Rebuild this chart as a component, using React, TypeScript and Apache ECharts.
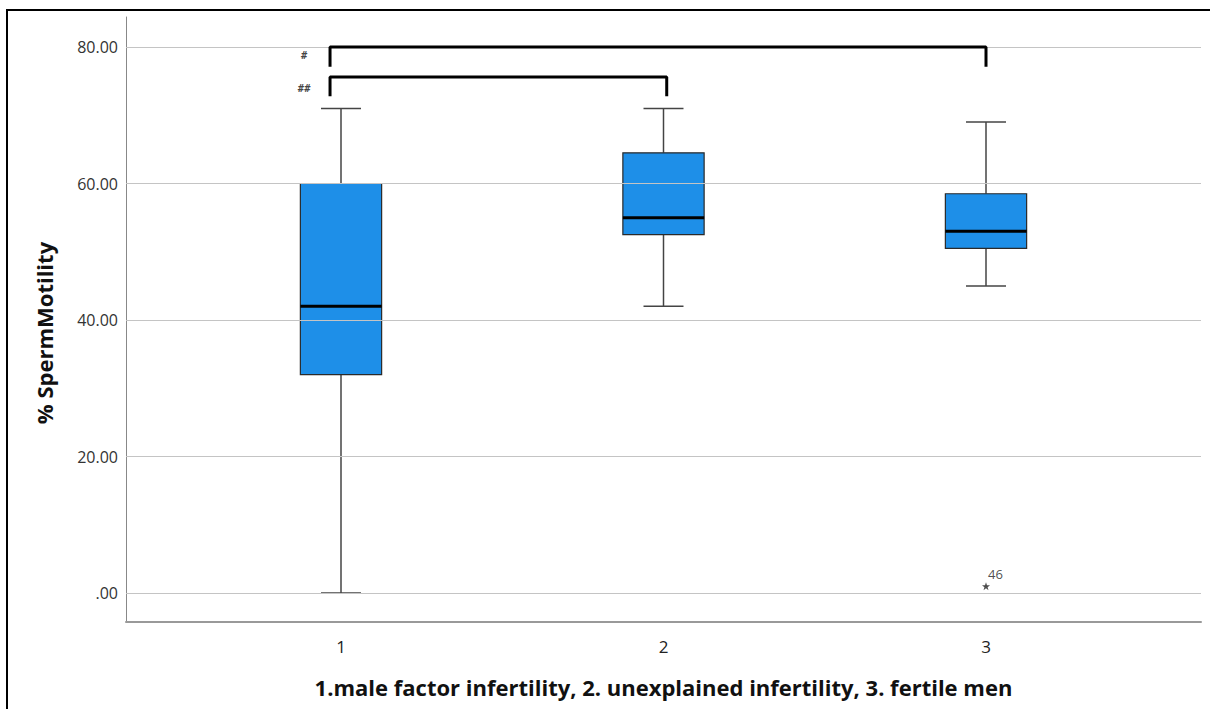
import React, { useEffect, useRef } from 'react';
import * as echarts from 'echarts';

// Group positions on the x axis and their tick labels
const categories = [1, 2, 3];
const categoryLabels = ['1', '2', '3'];
// Box plot values per group: [min, Q1, median, Q3, max]
const boxValues = [
  [0, 32, 42, 60, 71],
  [42, 52.5, 55, 64.5, 71],
  [45, 50.5, 53, 58.5, 69],
];
// Outliers: [group, value, case label]
const outliers: [number, number, string][] = [[3, 1, '46']];
// Y axis tick values
const yTicks = [0, 20, 40, 60, 80];
// Significance brackets: [x, y] corner points
const bracketTop = [[0.966, 77.1], [0.966, 80], [3, 80], [3, 77.1]];
const bracketBottom = [[0.966, 72.8], [0.966, 75.6], [2.01, 75.6], [2.01, 72.8]];
// Bracket marker labels: [x, y, text]
const bracketLabels: [number, number, string][] = [
  [0.885, 78.8, '#'],
  [0.885, 74.0, '##'],
];

const FONT = '"Open Sans", "Noto Sans", sans-serif';
const STAR =
  'path://M0,-10 L2.35,-3.24 L9.51,-3.09 L3.8,1.24 L5.88,8.09 L0,4 L-5.88,8.09 L-3.8,1.24 L-9.51,-3.09 L-2.35,-3.24Z';

export default function App() {
  const ref = useRef<HTMLDivElement>(null);
  useEffect(() => {
    document.body.style.margin = '0';
    const chart = echarts.init(ref.current!, null, { renderer: 'svg' });
    const boxData = categories.map((c, i) => [c, ...boxValues[i]]);
    chart.setOption({
      animation: false,
      backgroundColor: '#ffffff',
      grid: { left: 126, right: 9, top: 17, bottom: 87, containLabel: false, outerBoundsMode: 'none' },
      xAxis: {
        type: 'value',
        min: 1 / 3,
        max: 11 / 3,
        axisLine: { show: true, onZero: false, lineStyle: { color: '#999', width: 2 } },
        axisTick: { show: false },
        splitLine: { show: false },
        axisLabel: {
          customValues: categories,
          formatter: (v: number) => categoryLabels[categories.indexOf(Math.round(v))] ?? '',
          fontSize: 17,
          color: '#222',
          margin: 16,
          fontFamily: FONT,
        },
        name: '1.male factor infertility, 2. unexplained infertility, 3. fertile men',
        nameLocation: 'middle',
        nameGap: 54,
        nameTextStyle: { fontSize: 22, fontWeight: 'bold', color: '#111', fontFamily: FONT },
      },
      yAxis: {
        type: 'value',
        min: -4.25,
        max: 84.4,
        axisLine: { show: true, onZero: false, lineStyle: { color: '#888', width: 1 } },
        axisTick: { show: false },
        splitLine: { show: false },
        axisLabel: {
          customValues: yTicks,
          formatter: (v: number) => (v === 0 ? '.00' : v.toFixed(2)),
          fontSize: 16,
          color: '#333',
          margin: 8,
          fontFamily: FONT,
        },
      },
      graphic: [
        {
          type: 'polyline',
          shape: { points: [[7, 709], [7, 10], [1210, 10]] },
          style: { stroke: '#000', lineWidth: 2, fill: 'none' },
          silent: true,
        },
        {
          type: 'text',
          x: 44,
          y: 333,
          rotation: Math.PI / 2,
          style: {
            text: '% SpermMotility',
            align: 'center',
            verticalAlign: 'middle',
            fontSize: 22,
            fontWeight: 'bold',
            fill: '#111',
            fontFamily: FONT,
          },
        },
      ],
      series: [
        {
          type: 'line',
          data: [],
          z: 1,
          silent: true,
          markLine: {
            silent: true,
            symbol: 'none',
            label: { show: false },
            lineStyle: { color: '#c4c4c4', width: 1, type: 'solid' },
            data: yTicks.map((v) => ({ yAxis: v })),
          },
        },
        {
          type: 'custom',
          z: 3,
          data: boxData,
          encode: { x: 0, y: [1, 2, 3, 4, 5] },
          renderItem: (params: any, api: any) => {
            const x = api.value(0);
            const lo = api.coord([x, api.value(1)]);
            const q1 = api.coord([x, api.value(2)]);
            const med = api.coord([x, api.value(3)]);
            const q3 = api.coord([x, api.value(4)]);
            const hi = api.coord([x, api.value(5)]);
            const boxW = api.size([0.252, 0])[0];
            const capW = api.size([0.124, 0])[0];
            const cx = lo[0];
            const wStyle = { stroke: '#444', lineWidth: 1.5 };
            return {
              type: 'group',
              children: [
                { type: 'line', shape: { x1: cx, y1: hi[1], x2: cx, y2: q3[1] }, style: wStyle },
                { type: 'line', shape: { x1: cx, y1: q1[1], x2: cx, y2: lo[1] }, style: wStyle },
                { type: 'line', shape: { x1: cx - capW / 2, y1: hi[1], x2: cx + capW / 2, y2: hi[1] }, style: wStyle },
                { type: 'line', shape: { x1: cx - capW / 2, y1: lo[1], x2: cx + capW / 2, y2: lo[1] }, style: wStyle },
                {
                  type: 'rect',
                  shape: { x: cx - boxW / 2, y: q3[1], width: boxW, height: q1[1] - q3[1] },
                  style: { fill: '#1E8FE8', stroke: '#2a2a2a', lineWidth: 1.2 },
                },
                {
                  type: 'line',
                  shape: { x1: cx - boxW / 2, y1: med[1], x2: cx + boxW / 2, y2: med[1] },
                  style: { stroke: '#000', lineWidth: 3 },
                },
              ],
            };
          },
        },
        {
          type: 'scatter',
          z: 4,
          data: outliers.map((o) => ({ value: [o[0], o[1]], name: o[2] })),
          symbol: STAR,
          symbolSize: 8,
          itemStyle: { color: '#222' },
          label: {
            show: true,
            formatter: (p: any) => p.name,
            position: [6, -15],
            fontSize: 13,
            color: '#222',
            fontFamily: FONT,
          },
        },
        {
          type: 'line',
          z: 5,
          data: bracketTop,
          symbol: 'none',
          lineStyle: { color: '#000', width: 3 },
        },
        {
          type: 'line',
          z: 5,
          data: bracketBottom,
          symbol: 'none',
          lineStyle: { color: '#000', width: 3 },
        },
        {
          type: 'scatter',
          z: 5,
          data: bracketLabels.map((b) => ({ value: [b[0], b[1]], name: b[2] })),
          symbolSize: 0,
          label: {
            show: true,
            position: 'inside',
            formatter: (p: any) => p.name,
            fontSize: 10,
            fontStyle: 'italic',
            fontWeight: 'bold',
            color: '#111',
            fontFamily: FONT,
          },
        },
      ],
    });
    return () => chart.dispose();
  }, []);
  return <div ref={ref} style={{ width: 1210, height: 709 }} />;
}
